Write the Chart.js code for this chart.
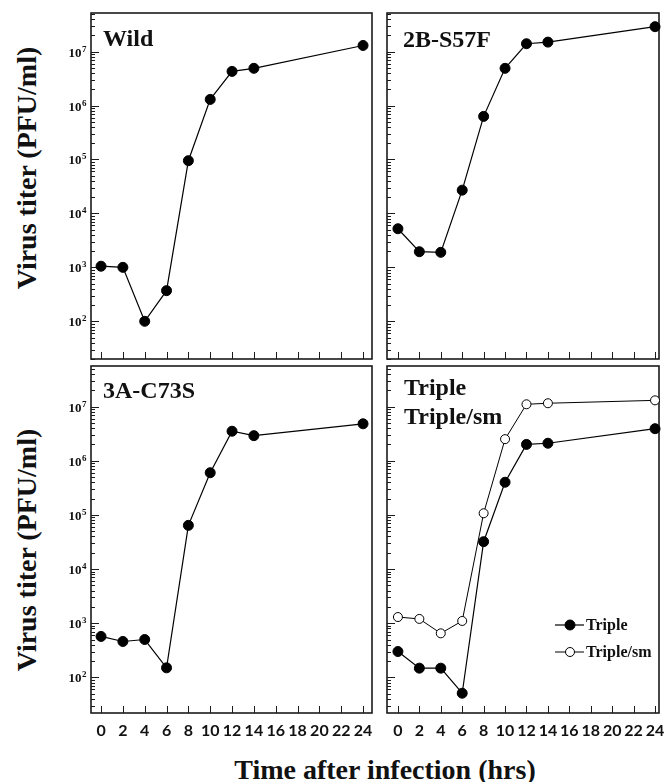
<!DOCTYPE html>
<html>
<head>
<meta charset="utf-8">
<script src="https://cdn.jsdelivr.net/npm/chart.js@4/dist/chart.umd.min.js"></script>
<style>
  body { margin:0; background:#fff; width:665px; height:782px; position:relative; overflow:hidden; }
  canvas { position:absolute; }
  .ytitle { position:absolute; font:bold 28px "Liberation Serif", serif; color:#111; white-space:nowrap;
            transform:translate(-50%,-50%) rotate(-90deg); }
  .xtitle { position:absolute; left:0; width:770px; top:754px; text-align:center; line-height:28px;
            font:bold 28px "Liberation Serif", serif; color:#111; white-space:nowrap; }
</style>
</head>
<body>
<div class="ytitle" style="left:27px;top:168px">Virus titer (PFU/ml)</div>
<div class="ytitle" style="left:27px;top:550px">Virus titer (PFU/ml)</div>
<div class="xtitle">Time after infection (hrs)</div>
<canvas id="cv-tl" width="340" height="365" style="left:40px;top:0"></canvas>
<canvas id="cv-tr" width="285" height="365" style="left:380px;top:0"></canvas>
<canvas id="cv-bl" width="340" height="422" style="left:40px;top:360px"></canvas>
<canvas id="cv-br" width="285" height="422" style="left:380px;top:360px"></canvas>
<script>
/* virus titer time courses, PFU/ml */
const hours    = [0, 2, 4, 6, 8, 10, 12, 14, 24];
const wild     = [1050, 1000, 100, 370, 9.5e4, 1.3e6, 4.3e6, 4.9e6, 1.3e7];
const s57f     = [5200, 1950, 1900, 2.7e4, 6.3e5, 4.9e6, 1.4e7, 1.5e7, 2.9e7];
const c73s     = [570, 460, 500, 150, 6.4e4, 6.0e5, 3.5e6, 2.9e6, 4.8e6];
const triple   = [300, 148, 148, 51, 3.2e4, 4.0e5, 2.0e6, 2.1e6, 3.9e6];
const tripleSm = [1300, 1200, 650, 1100, 1.07e5, 2.5e6, 1.1e7, 1.15e7, 1.3e7];
const xTicks   = [0, 2, 4, 6, 8, 10, 12, 14, 16, 18, 20, 22, 24];
const yDecades = [2, 3, 4, 5, 6, 7];
const legendLabels = ['Triple', 'Triple/sm'];

const SERIF = '"Liberation Serif", "Times New Roman", serif';
const pts = vals => hours.map((h, i) => ({ x: h, y: vals[i] }));

function filled(label, vals){
  return { label, data: pts(vals), borderColor:'#000', borderWidth:1.2, tension:0, clip:false,
    pointRadius:5, pointHoverRadius:5, pointBackgroundColor:'#000', pointBorderColor:'#000', pointBorderWidth:1 };
}
function open(label, vals){
  return { label, data: pts(vals), borderColor:'#000', borderWidth:1, tension:0, clip:false,
    pointRadius:4.5, pointHoverRadius:4.5, pointBackgroundColor:'#fff', pointBorderColor:'#000', pointBorderWidth:1 };
}

// frame, inward ticks, 10^n labels, panel name, legend
const panelPlugin = {
  id: 'panel',
  beforeDatasetsDraw(chart, args, o){
    const { ctx, chartArea:a, scales:{ x, y } } = chart;
    ctx.save();
    ctx.strokeStyle = '#1b1b1b';
    ctx.lineWidth = 1;
    xTicks.forEach(v => {
      const px = Math.round(x.getPixelForValue(v)) + 0.5;
      ctx.beginPath(); ctx.moveTo(px, a.bottom); ctx.lineTo(px, a.bottom - 7); ctx.stroke();
    });
    for (let d = 1; d <= 7; d++) for (let m = 1; m <= 9; m++) {
      const v = m * Math.pow(10, d);
      if (v < y.min || v > y.max) continue;
      const py = Math.round(y.getPixelForValue(v)) + 0.5;
      ctx.beginPath(); ctx.moveTo(a.left, py); ctx.lineTo(a.left + (m === 1 ? 8 : 4), py); ctx.stroke();
    }
    ctx.lineWidth = 1.6;
    ctx.strokeRect(a.left, a.top, a.right - a.left, a.bottom - a.top);
    ctx.restore();
  },
  afterDatasetsDraw(chart, args, o){
    const { ctx, chartArea:a, scales:{ y } } = chart;
    ctx.save();
    ctx.fillStyle = '#111';
    ctx.textBaseline = 'alphabetic';
    if (o.yLabels) {
      yDecades.forEach(d => {
        const py = y.getPixelForValue(Math.pow(10, d));
        ctx.font = 'bold 13px ' + SERIF;
        const w1 = ctx.measureText('10').width;
        ctx.font = 'bold 9px ' + SERIF;
        const w2 = ctx.measureText(String(d)).width;
        const x0 = a.left - 5 - w1 - w2;
        ctx.font = 'bold 13px ' + SERIF;
        ctx.fillText('10', x0, py + 5);
        ctx.font = 'bold 9px ' + SERIF;
        ctx.fillText(String(d), x0 + w1 + 0.5, py);
      });
    }
    ctx.font = 'bold 24px ' + SERIF;
    o.name.forEach((t, i) => ctx.fillText(t, a.left + o.nameX, a.top + o.nameY + i * 29));
    if (o.legend) {
      chart.data.datasets.forEach((ds, i) => {
        const ly = a.bottom - 88 + i * 27;
        ctx.strokeStyle = ds.borderColor; ctx.lineWidth = ds.borderWidth;
        ctx.beginPath(); ctx.moveTo(a.right - 104, ly); ctx.lineTo(a.right - 75, ly); ctx.stroke();
        ctx.beginPath(); ctx.arc(a.right - 89, ly, ds.pointRadius, 0, Math.PI * 2);
        ctx.fillStyle = ds.pointBackgroundColor; ctx.fill();
        ctx.lineWidth = ds.pointBorderWidth; ctx.strokeStyle = ds.pointBorderColor; ctx.stroke();
        ctx.fillStyle = '#111';
        ctx.font = 'bold 16px ' + SERIF;
        ctx.fillText(legendLabels[i], a.right - 73, ly + 5);
      });
    }
    ctx.restore();
  }
};

function makePanel(id, p){
  return new Chart(document.getElementById(id), {
    type: 'line',
    data: { datasets: p.datasets },
    plugins: [panelPlugin],
    options: {
      responsive: false, animation: false, devicePixelRatio: 1,
      layout: { padding: { top: p.padTop, right: p.padRight, left: 0, bottom: 0 } },
      plugins: {
        legend: { display: false }, tooltip: { enabled: false },
        panel: { yLabels: p.yLabels, name: p.name, nameX: p.nameX, nameY: p.nameY, legend: !!p.legend }
      },
      scales: {
        x: {
          type: 'linear', min: p.xMin, max: p.xMax,
          grid: { display: false, drawTicks: false }, border: { display: false },
          afterBuildTicks: s => { s.ticks = xTicks.map(v => ({ value: v })); },
          afterFit: s => { s.height = p.xHeight; s.paddingLeft = 0; s.paddingRight = 0; },
          ticks: { display: p.xLabels, padding: 8, color: '#111', maxRotation: 0, autoSkip: false,
                   font: { family: 'Lato', weight: 'bold', size: 16 } }
        },
        y: {
          type: 'logarithmic', min: p.yMin, max: p.yMax,
          grid: { display: false, drawTicks: false }, border: { display: false },
          ticks: { display: false },
          afterFit: s => { s.width = p.yWidth; }
        }
      }
    }
  });
}

makePanel('cv-tl', { datasets: [filled('Wild', wild)], padTop: 13, padRight: 8, yWidth: 51, xHeight: 4,
  xMin: -0.92, xMax: 24.82, yMin: 20, yMax: 5.2e7, yLabels: true, xLabels: false,
  name: ['Wild'], nameX: 12, nameY: 33 });
makePanel('cv-tr', { datasets: [filled('2B-S57F', s57f)], padTop: 13, padRight: 3, yWidth: 7, xHeight: 4,
  xMin: -1.02, xMax: 24.37, yMin: 20, yMax: 5.2e7, yLabels: false, xLabels: false,
  name: ['2B-S57F'], nameX: 16, nameY: 34 });
makePanel('cv-bl', { datasets: [filled('3A-C73S', c73s)], padTop: 4, padRight: 8, yWidth: 51, xHeight: 69,
  xMin: -0.92, xMax: 24.82, yMin: 22, yMax: 5.6e7, yLabels: true, xLabels: true,
  name: ['3A-C73S'], nameX: 12, nameY: 32 });
makePanel('cv-br', { datasets: [filled('Triple', triple), open('Triple/sm', tripleSm)], padTop: 4, padRight: 3, yWidth: 7, xHeight: 69,
  xMin: -1.02, xMax: 24.37, yMin: 22, yMax: 5.6e7, yLabels: false, xLabels: true,
  name: ['Triple', 'Triple/sm'], nameX: 17, nameY: 29, legend: true });
</script>
</body>
</html>
